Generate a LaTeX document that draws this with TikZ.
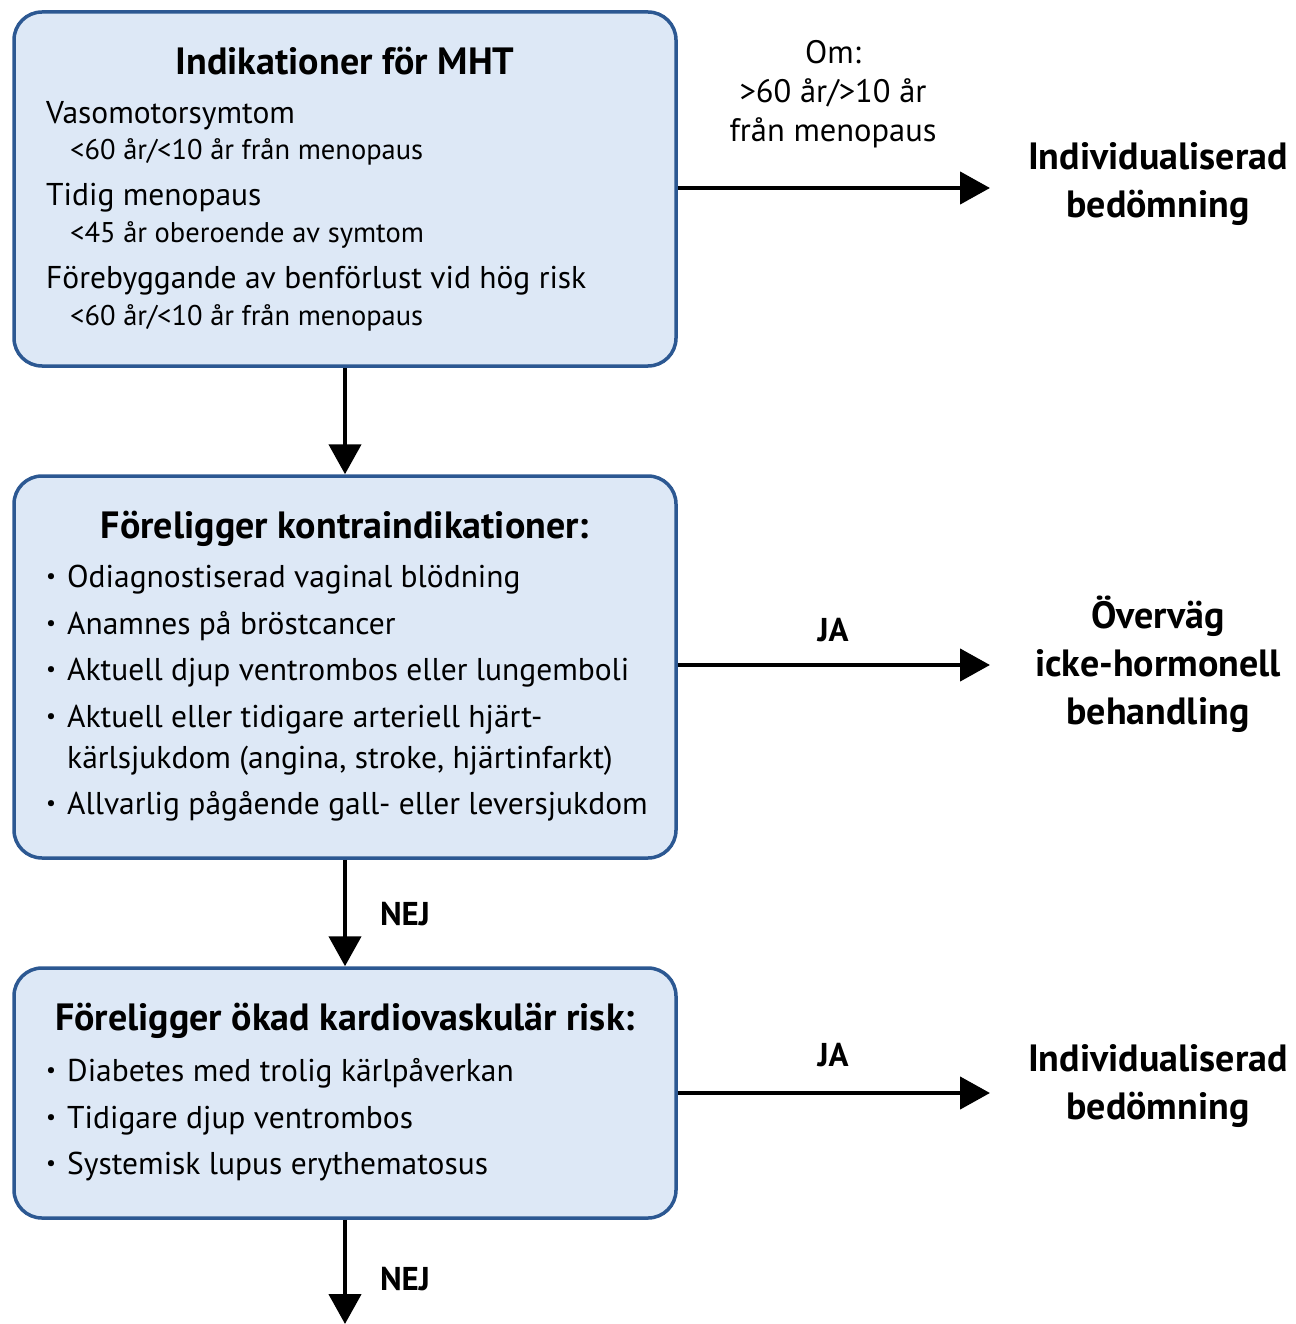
\documentclass[tikz,border=0pt]{standalone}
\usepackage{fontspec}
\setmainfont{PT Sans}
\usetikzlibrary{arrows.meta}
\definecolor{boxfill}{RGB}{221,232,246}
\definecolor{boxline}{RGB}{44,88,146}
\newcommand{\bul}{\makebox[21pt][l]{\raisebox{0.12em}{\scalebox{0.7}{•}}}}
\begin{document}
\begin{tikzpicture}[x=1pt,y=-1pt,
  box/.style={draw=boxline, fill=boxfill, line width=3.5pt, rounded corners=28pt, inner sep=0pt, minimum width=662pt},
  arr/.style={line width=4.5pt, -{Triangle[length=30pt,width=32pt]}},
  ttl/.style={anchor=base, inner sep=0pt, font=\fontsize{38}{44}\selectfont\bfseries},
  bod/.style={anchor=base west, inner sep=0pt, font=\fontsize{31.5}{36}\selectfont},
  sub/.style={anchor=base west, inner sep=0pt, font=\fontsize{28.5}{33}\selectfont},
  side/.style={align=center, inner sep=0pt, font=\fontsize{38}{48}\selectfont\bfseries},
  lbl/.style={align=center, inner sep=0pt, font=\fontsize{32.5}{39}\selectfont},
  yn/.style={anchor=base, inner sep=0pt, font=\fontsize{33}{38}\selectfont\bfseries}]
\useasboundingbox (0,0) rectangle (1295,1324);
% boxes
\node[box, minimum height=354pt] (b1) at (345,189) {};
\node[box, minimum height=382pt] (b2) at (345,667) {};
\node[box, minimum height=250pt] (b3) at (345,1093) {};
% box 1 text
\node[ttl] (t1) at (345,75) {Indikationer för MHT};
\node[bod] (l11) at (46,124) {Vasomotorsymtom};
\node[sub] (l12) at (70,160) {<60 år/<10 år från menopaus};
\node[bod] (l13) at (46,206) {Tidig menopaus};
\node[sub] (l14) at (70,243) {<45 år oberoende av symtom};
\node[bod] (l15) at (46,288) {Förebyggande av benförlust vid hög risk};
\node[sub] (l16) at (70,325) {<60 år/<10 år från menopaus};
% box 2 text
\node[ttl] (t2) at (345,538) {Föreligger kontraindikationer:};
\node[bod] (l21) at (46,587) {\bul Odiagnostiserad vaginal blödning};
\node[bod] (l22) at (46,634) {\bul Anamnes på bröstcancer};
\node[bod] (l23) at (46,680) {\bul Aktuell djup ventrombos eller lungemboli};
\node[bod] (l24) at (46,727) {\bul Aktuell eller tidigare arteriell hjärt-};
\node[bod] (l25) at (67,768) {kärlsjukdom (angina, stroke, hjärtinfarkt)};
\node[bod] (l26) at (46,814) {\bul Allvarlig pågående gall- eller leversjukdom};
% box 3 text
\node[ttl] (t3) at (345,1030) {Föreligger ökad kardiovaskulär risk:};
\node[bod] (l31) at (46,1081) {\bul Diabetes med trolig kärlpåverkan};
\node[bod] (l32) at (46,1128) {\bul Tidigare djup ventrombos};
\node[bod] (l33) at (46,1174) {\bul Systemisk lupus erythematosus};
% right side
\node[side] (r1) at (1158,184) {Individualiserad\\bedömning};
\node[side] (r2) at (1158,664) {Överväg\\icke-hormonell\\behandling};
\node[side] (r3) at (1158,1086) {Individualiserad\\bedömning};
\node[lbl] (om) at (833,94) {Om:\\>60 år/>10 år\\från menopaus};
\node[yn] (ja1) at (833,641) {JA};
\node[yn] (ja2) at (833,1066) {JA};
\node[yn] (nej1) at (405,925) {NEJ};
\node[yn] (nej2) at (405,1290) {NEJ};
% connectors
\coordinate (e1) at (990,188);
\coordinate (e2) at (990,665);
\coordinate (e3) at (990,1093);
\coordinate (e4) at (345,1324);
\draw[arr] (b1.south) -- (b2.north);
\draw[arr] (b2.south) -- (b3.north);
\draw[arr] (b3.south) -- (e4);
\draw[arr] (b1.east |- e1) -- (e1);
\draw[arr] (b2.east |- e2) -- (e2);
\draw[arr] (b3.east |- e3) -- (e3);
\end{tikzpicture}
\end{document}
